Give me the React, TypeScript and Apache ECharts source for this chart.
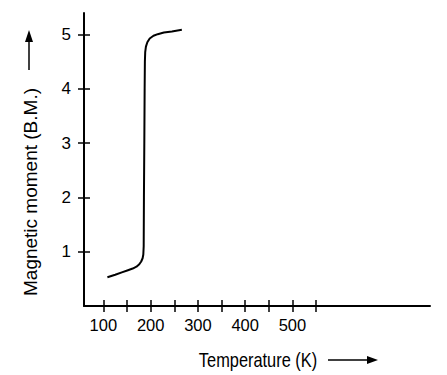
import React, { useEffect, useRef } from "react";
import * as echarts from "echarts";

const temperatures = [108.5, 125, 139, 152, 162, 170, 176, 180, 183, 184.5, 185.3, 185.8, 186.6, 187.3, 187.8, 188.5, 190, 193, 198, 206, 215, 228, 245, 266];
const moments = [0.53, 0.575, 0.62, 0.66, 0.69, 0.725, 0.77, 0.82, 0.88, 0.95, 1.1, 2.0, 3.0, 4.0, 4.5, 4.68, 4.78, 4.86, 4.93, 4.98, 5.01, 5.04, 5.06, 5.09];
const xTicks = [100, 150, 200, 250, 300, 350, 400, 450, 500, 550];
const xLabels = [100, 200, 300, 400, 500];
const yTicks = [1, 2, 3, 4, 5];
const xName = "Temperature (K)";
const yName = "Magnetic moment (B.M.)";

const INK = "#000";
const SANS = "'Liberation Sans', Arial, sans-serif";

export default function App() {
  const ref = useRef<HTMLDivElement>(null);
  useEffect(() => {
    if (!ref.current) return;
    const chart = echarts.init(ref.current, null, { renderer: "svg" });
    const data = temperatures.map((t, i) => [t, moments[i]]);
    const xBase = { type: "value", min: 59, max: 791, position: "bottom", splitLine: { show: false } };
    const yBase = { type: "value", min: 0, max: 5.4, position: "left", splitLine: { show: false } };
    chart.setOption({
      animation: false,
      backgroundColor: "#fff",
      grid: { left: 84, right: 17, top: 13, bottom: 69 },
      xAxis: [
        {
          ...xBase,
          axisLine: { show: true, lineStyle: { color: INK, width: 2 } },
          axisTick: { show: true, length: 6, customValues: xTicks, lineStyle: { color: INK, width: 1.5 } },
          axisLabel: { show: true, customValues: xLabels, margin: 10, color: INK, fontSize: 16.5, fontFamily: SANS },
        },
        {
          ...xBase,
          axisLine: { show: false },
          axisTick: { show: true, inside: true, length: 6, customValues: xTicks, lineStyle: { color: INK, width: 1.5 } },
          axisLabel: { show: false },
        },
      ],
      yAxis: [
        {
          ...yBase,
          axisLine: { show: true, lineStyle: { color: INK, width: 2 } },
          axisTick: { show: true, length: 6, customValues: yTicks, lineStyle: { color: INK, width: 1.5 } },
          axisLabel: { show: true, customValues: yTicks, margin: 13, color: INK, fontSize: 17, fontFamily: SANS },
        },
        {
          ...yBase,
          axisLine: { show: false },
          axisTick: { show: true, inside: true, length: 6, customValues: yTicks, lineStyle: { color: INK, width: 1.5 } },
          axisLabel: { show: false },
        },
      ],
      series: [
        {
          type: "line",
          data,
          xAxisIndex: 0,
          yAxisIndex: 0,
          showSymbol: false,
          smooth: false,
          lineStyle: { color: INK, width: 2 },
        },
      ],
      graphic: [
        {
          type: "text",
          x: 258,
          y: 360,
          scaleX: 0.82,
          style: { text: xName, fill: INK, fontSize: 20, fontFamily: SANS, align: "center", verticalAlign: "middle" },
        },
        { type: "line", shape: { x1: 328, y1: 360, x2: 369, y2: 360 }, style: { stroke: INK, lineWidth: 1.5 } },
        { type: "polygon", shape: { points: [[378, 360], [367, 356], [367, 364]] }, style: { fill: INK } },
        {
          type: "text",
          x: 30,
          y: 192,
          rotation: Math.PI / 2,
          style: { text: yName, fill: INK, fontSize: 19, fontFamily: SANS, align: "center", verticalAlign: "middle" },
        },
        { type: "line", shape: { x1: 29, y1: 70, x2: 29, y2: 41 }, style: { stroke: INK, lineWidth: 1.5 } },
        { type: "polygon", shape: { points: [[29, 30], [25, 42], [33, 42]] }, style: { fill: INK } },
      ],
    });
    return () => chart.dispose();
  }, []);
  return <div ref={ref} style={{ width: 447, height: 375, position: "absolute", left: 0, top: 0 }} />;
}
